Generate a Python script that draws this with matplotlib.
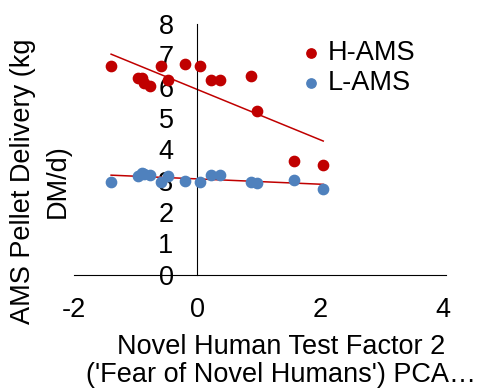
import numpy as np
import matplotlib
matplotlib.use('Agg')
import matplotlib.pyplot as plt

plt.rcParams['font.family'] = ['Liberation Sans', 'DejaVu Sans']
plt.rcParams['axes.unicode_minus'] = False

# factor 2 scores (same cows in both groups)
factor2 = [-1.40, -0.96, -0.90, -0.87, -0.76, -0.59, -0.47, -0.20, 0.04, 0.23, 0.37, 0.88, 0.97, 1.58, 2.05]
h_ams = [6.66, 6.28, 6.26, 6.13, 6.03, 6.66, 6.21, 6.72, 6.66, 6.22, 6.20, 6.33, 5.21, 3.62, 3.49]
l_ams = [2.97, 3.16, 3.26, 3.21, 3.19, 2.97, 3.16, 2.99, 2.97, 3.17, 3.17, 2.97, 2.94, 3.01, 2.75]

red = '#C00000'
blue = '#4F81BD'
fs = 19.5

fig = plt.figure(figsize=(4.85, 3.91), dpi=100)
ax = fig.add_axes([0.153, 0.297, 0.767, 0.642])

x = np.array(factor2)
ax.scatter(x, h_ams, s=55, color=red, label='H-AMS', zorder=3)
ax.scatter(x, l_ams, s=55, color=blue, label='L-AMS', zorder=3)

# linear trendlines
xs = np.array([x.min(), x.max()])
for ys in (h_ams, l_ams):
    m, b = np.polyfit(x, ys, 1)
    ax.plot(xs, m * xs + b, color=red, lw=1.1, zorder=2)

ax.set_xlim(-2, 4.05)
ax.set_ylim(0, 8)
ax.set_xticks([-2, 0, 2, 4])
ax.set_yticks(range(0, 9))
ax.spines['left'].set_position(('data', 0))
ax.spines['bottom'].set_position(('data', 0))
ax.spines['top'].set_visible(False)
ax.spines['right'].set_visible(False)
ax.tick_params(axis='both', length=0, labelsize=fs)
ax.tick_params(axis='y', pad=17)
ax.tick_params(axis='x', pad=16)

ax.set_xlabel("Novel Human Test Factor 2\n('Fear of Novel Humans') PCA\u2026",
              fontsize=fs, linespacing=1.12)
ax.xaxis.set_label_coords(0.556, -0.235)
ax.xaxis.label.set_va('top')

# y label as two lines, drawn separately
fig.text(23 / 485, 1 - 181 / 391, 'AMS Pellet Delivery (kg', rotation=90,
         ha='center', va='center', fontsize=fs)
fig.text(58 / 485, 1 - 181 / 391, 'DM/d)', rotation=90,
         ha='center', va='center', fontsize=fs)

leg = ax.legend(loc='upper left', bbox_to_anchor=(0.565, 0.978), frameon=False, fontsize=fs,
                handletextpad=0.0, labelspacing=0.15, borderaxespad=0, scatterpoints=1,
                handlelength=1.2)
for h in leg.legend_handles:
    h.set_sizes([45])

fig.savefig('out.png', dpi=100)
